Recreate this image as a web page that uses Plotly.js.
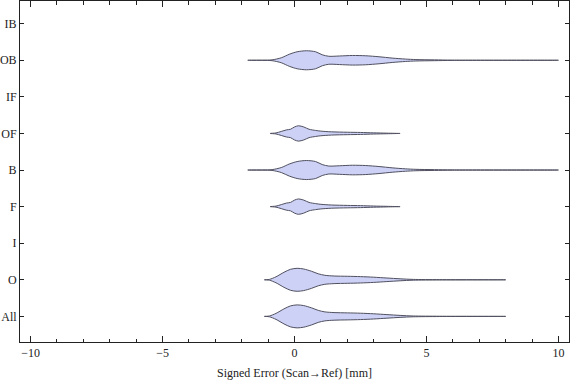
<!DOCTYPE html>
<html>
<head>
<meta charset="utf-8">
<script src="https://cdn.plot.ly/plotly-3.0.1.min.js"></script>
<style>html,body{margin:0;padding:0;background:#fff}#chart{width:576px;height:381px}</style>
</head>
<body>
<div id="chart"></div>
<script>
// Categories, bottom to top
const categories = ["All", "O", "I", "F", "B", "OF", "IF", "OB", "IB"];

// Density profiles (x = signed error in mm, hw = half-width of violin in category units)
const xOB  = [-1.77, -1.2, -0.85, -0.5, -0.2, 0.1, 0.45, 0.8, 1.05, 1.3, 1.7, 2.2, 2.7, 3.2, 3.7, 4.2, 4.6, 5.3, 6.0, 10.0];
const hwOB = [0, 0.003, 0.011, 0.068, 0.164, 0.232, 0.26, 0.232, 0.15, 0.109, 0.117, 0.131, 0.123, 0.096, 0.06, 0.033, 0.019, 0.011, 0.004, 0];

const xOF  = [-0.92, -0.7, -0.5, -0.3, -0.15, 0.0, 0.15, 0.35, 0.55, 0.8, 1.0, 1.4, 2.0, 2.5, 3.0, 3.5, 4.0];
const hwOF = [0, 0.014, 0.055, 0.098, 0.115, 0.178, 0.21, 0.178, 0.115, 0.082, 0.063, 0.044, 0.033, 0.027, 0.016, 0.008, 0];

const xO   = [-1.14, -0.95, -0.7, -0.4, -0.15, 0.1, 0.35, 0.65, 0.9, 1.15, 1.5, 2.0, 2.5, 3.0, 3.5, 4.0, 4.5, 5.5, 8.0];
const hwO  = [0, 0.011, 0.082, 0.205, 0.287, 0.314, 0.295, 0.232, 0.164, 0.123, 0.104, 0.096, 0.087, 0.071, 0.049, 0.027, 0.011, 0.004, 0];

// Which category gets which profile (empty categories: I, IF, IB)
const seriesCats = ["All", "O", "F", "B", "OF", "OB"];
const seriesX    = [xO, xO, xOF, xOB, xOF, xOB];
const seriesHW   = [hwO, hwO, hwOF, hwOB, hwOF, hwOB];

const traces = seriesCats.map((c, i) => {
  const pos = categories.indexOf(c) + 1;
  const xs = seriesX[i], hw = seriesHW[i];
  const X = xs.concat(xs.slice().reverse());
  const Y = hw.map(w => pos + w).concat(hw.slice().reverse().map(w => pos - w));
  return {
    type: "scatter", mode: "lines", x: X, y: Y,
    fill: "toself", fillcolor: "rgb(204,209,245)",
    line: {color: "#505060", width: 1, shape: "spline", smoothing: 0.8},
    hoverinfo: "skip", showlegend: false
  };
});

const font = {family: "Liberation Serif, Times New Roman, serif", size: 12, color: "#222"};

const layout = {
  width: 576, height: 381,
  margin: {l: 20, r: 7, t: 1, b: 39},
  paper_bgcolor: "#fff", plot_bgcolor: "#fff",
  font: font,
  showlegend: false,
  xaxis: {
    range: [-10.4, 10.4], tickvals: [-10, -5, 0, 5, 10],
    ticks: "inside", ticklen: 6, tickcolor: "#222", tickwidth: 1,
    minor: {dtick: 1, ticks: "inside", ticklen: 3.5, tickcolor: "#222", tickwidth: 1},
    showline: true, linecolor: "#222", linewidth: 1, mirror: "ticks",
    showgrid: false, zeroline: false,
    tickfont: font,
    title: {text: "Signed Error (Scan→Ref) [mm]", font: font, standoff: 9}
  },
  yaxis: {
    range: [0.3, 9.62],
    tickvals: categories.map((c, i) => i + 1), ticktext: categories,
    ticks: "inside", ticklen: 4, tickcolor: "#222", tickwidth: 1,
    showline: true, linecolor: "#222", linewidth: 1, mirror: "ticks",
    showgrid: false, zeroline: false,
    tickfont: font
  }
};

Plotly.newPlot("chart", traces, layout, {displayModeBar: false, staticPlot: true});
</script>
</body>
</html>
